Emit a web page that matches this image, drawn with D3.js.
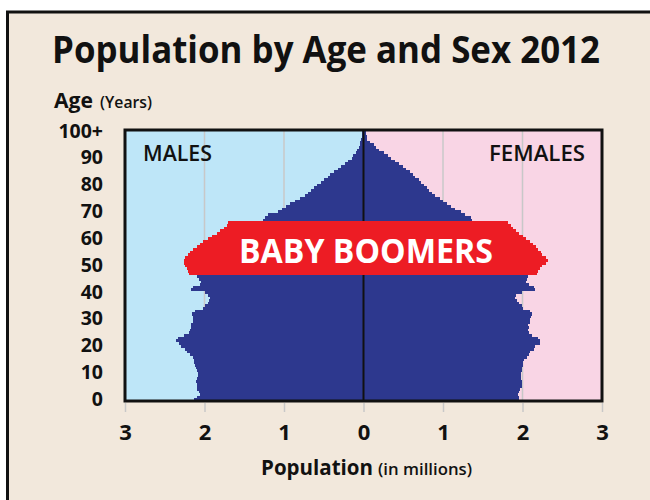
<!DOCTYPE html>
<html>
<head>
<meta charset="utf-8">
<script src="https://cdn.jsdelivr.net/npm/d3@7"></script>
<style>
  body { margin: 0; background: #fff; }
  text { font-family: "Open Sans", sans-serif; fill: #111; }
</style>
</head>
<body>
<script>
// population in millions, single year of age 0..100 (100 = 100+)
const ages = d3.range(0, 101);

const males = [
  2.13, 2.10, 2.06, 2.07, 2.09, 2.10, 2.10, 2.11, 2.10, 2.08,
  2.08, 2.09, 2.11, 2.12, 2.13, 2.13, 2.15, 2.18, 2.22, 2.25,
  2.29, 2.32, 2.36, 2.33, 2.26, 2.20, 2.18, 2.17, 2.17, 2.15,
  2.14, 2.15, 2.16, 2.12, 2.02, 2.00, 1.96, 1.94, 1.93, 1.96,
  2.00, 2.17, 2.15, 2.06, 2.05, 2.07, 2.10, 2.20, 2.21, 2.22,
  2.24, 2.26, 2.26, 2.25, 2.21, 2.18, 2.14, 2.10, 2.06, 2.02,
  1.96, 1.90, 1.84, 1.80, 1.75, 1.72, 1.70, 1.27, 1.24, 1.20,
  1.08, 1.03, 0.98, 0.92, 0.86, 0.80, 0.74, 0.70, 0.66, 0.62,
  0.58, 0.54, 0.50, 0.45, 0.42, 0.37, 0.32, 0.28, 0.23, 0.19,
  0.15, 0.13, 0.10, 0.08, 0.06, 0.05, 0.04, 0.03, 0.02, 0.015,
  0.02
];

const females = [
  1.96, 1.95, 1.94, 1.96, 1.97, 1.99, 1.99, 1.99, 1.98, 1.98,
  1.98, 1.99, 1.99, 2.00, 2.01, 2.02, 2.06, 2.08, 2.10, 2.14,
  2.16, 2.22, 2.22, 2.20, 2.12, 2.08, 2.07, 2.08, 2.07, 2.10,
  2.10, 2.11, 2.12, 2.10, 2.00, 1.99, 1.95, 1.93, 1.90, 1.92,
  1.99, 2.16, 2.15, 2.08, 2.04, 2.06, 2.07, 2.18, 2.20, 2.22,
  2.25, 2.30, 2.32, 2.30, 2.25, 2.23, 2.20, 2.17, 2.13, 2.10,
  2.05, 2.00, 1.95, 1.92, 1.88, 1.85, 1.82, 1.37, 1.35, 1.28,
  1.23, 1.15, 1.10, 1.05, 1.00, 0.96, 0.90, 0.86, 0.83, 0.80,
  0.76, 0.72, 0.70, 0.65, 0.62, 0.58, 0.54, 0.50, 0.45, 0.40,
  0.35, 0.31, 0.26, 0.20, 0.16, 0.13, 0.08, 0.05, 0.04, 0.03,
  0.03
];

const boomerAges = [47, 66];
const ageTicks = [0, 10, 20, 30, 40, 50, 60, 70, 80, 90, 100];
const popTicks = [-3, -2, -1, 0, 1, 2, 3];

const plot = { left: 125, right: 602, top: 130, bottom: 401 };

let svg = d3.select("body")
  .append("svg")
  .attr("width", 650)
  .attr("height", 500);

// outer beige panel
svg.append("rect")
  .attr("x", 7.5)
  .attr("y", 12)
  .attr("width", 700)
  .attr("height", 600)
  .attr("fill", "#f2e8dc")
  .attr("stroke", "#111")
  .attr("stroke-width", 3);

let x = d3.scaleLinear().domain([-3, 3]).range([plot.left, plot.right]);
let y = d3.scaleBand().domain(ages).range([plot.bottom, plot.top]).padding(0);

let data = ages.map(function (a, i) {
  return { age: a, m: males[i], f: females[i] };
});

// backgrounds
svg.append("rect")
  .attr("x", x(-3)).attr("y", plot.top)
  .attr("width", x(0) - x(-3)).attr("height", plot.bottom - plot.top)
  .attr("fill", "#bee6f8");
svg.append("rect")
  .attr("x", x(0)).attr("y", plot.top)
  .attr("width", x(3) - x(0)).attr("height", plot.bottom - plot.top)
  .attr("fill", "#f9d5e5");

// grid lines
svg.selectAll(".grid")
  .data([-2, -1, 1, 2])
  .enter().append("line")
  .attr("x1", function (d) { return x(d); })
  .attr("x2", function (d) { return x(d); })
  .attr("y1", plot.top)
  .attr("y2", plot.bottom)
  .attr("stroke", "#c8c8c8")
  .attr("stroke-width", 1.5);

let isBoomer = function (d) { return d.age >= boomerAges[0] && d.age <= boomerAges[1]; };

let blue = data.filter(function (d) { return !isBoomer(d); });
let red = data.filter(isBoomer);

svg.append("g")
  .attr("shape-rendering", "crispEdges")
  .selectAll("rect")
  .data(blue)
  .enter().append("rect")
  .attr("x", function (d) { return x(-d.m); })
  .attr("y", function (d) { return y(d.age); })
  .attr("width", function (d) { return x(d.f) - x(-d.m); })
  .attr("height", y.bandwidth() + 0.5)
  .attr("fill", "#2d388e");

// centre line
svg.append("line")
  .attr("x1", x(0)).attr("x2", x(0))
  .attr("y1", plot.top).attr("y2", plot.bottom)
  .attr("stroke", "#111")
  .attr("stroke-width", 2);

svg.append("g")
  .attr("shape-rendering", "crispEdges")
  .selectAll("rect")
  .data(red)
  .enter().append("rect")
  .attr("x", function (d) { return x(-d.m); })
  .attr("y", function (d) { return y(d.age); })
  .attr("width", function (d) { return x(d.f) - x(-d.m); })
  .attr("height", y.bandwidth() + 0.5)
  .attr("fill", "#ed1c24");

svg.append("text")
  .attr("x", 366)
  .attr("y", 263)
  .attr("text-anchor", "middle")
  .attr("font-size", 34)
  .attr("font-weight", 700)
  .attr("textLength", 254)
  .attr("lengthAdjust", "spacingAndGlyphs")
  .style("fill", "#fff")
  .text("BABY BOOMERS");

// plot frame
svg.append("rect")
  .attr("x", plot.left).attr("y", plot.top)
  .attr("width", plot.right - plot.left).attr("height", plot.bottom - plot.top)
  .attr("fill", "none")
  .attr("stroke", "#111")
  .attr("stroke-width", 3);

svg.append("text")
  .attr("x", 143).attr("y", 161)
  .attr("font-size", 22).attr("font-weight", 600)
  .attr("textLength", 69).attr("lengthAdjust", "spacingAndGlyphs")
  .text("MALES");
svg.append("text")
  .attr("x", 489).attr("y", 161)
  .attr("font-size", 22).attr("font-weight", 600)
  .attr("textLength", 96).attr("lengthAdjust", "spacingAndGlyphs")
  .text("FEMALES");

// x axis
let xAxis = svg.append("g")
  .attr("transform", "translate(0," + (plot.bottom + 2) + ")")
  .call(d3.axisBottom(x)
    .tickValues(popTicks)
    .tickSize(9)
    .tickPadding(12)
    .tickFormat(function (d) { return Math.abs(d); }));
xAxis.select(".domain").remove();
xAxis.selectAll(".tick line").attr("stroke", "#c8c8c8").attr("stroke-width", 1.5);
xAxis.selectAll(".tick text")
  .attr("font-family", "Open Sans, sans-serif")
  .attr("font-size", 22).attr("font-weight", 700)
  .style("fill", "#111");

// y axis
let yAxis = svg.append("g")
  .attr("transform", "translate(" + 103 + ",0)")
  .call(d3.axisLeft(y)
    .tickValues(ageTicks)
    .tickSize(0)
    .tickPadding(0)
    .tickFormat(function (d) { return d === 100 ? "100+" : d; }));
yAxis.select(".domain").remove();
yAxis.selectAll(".tick text")
  .attr("font-family", "Open Sans, sans-serif")
  .attr("font-size", 19.5).attr("font-weight", 700)
  .style("fill", "#111");

// titles
svg.append("text")
  .attr("x", 52).attr("y", 63)
  .attr("font-size", 37).attr("font-weight", 700)
  .attr("textLength", 548).attr("lengthAdjust", "spacingAndGlyphs")
  .text("Population by Age and Sex 2012");

svg.append("text")
  .attr("x", 54).attr("y", 108)
  .attr("font-size", 22).attr("font-weight", 700)
  .attr("textLength", 39).attr("lengthAdjust", "spacingAndGlyphs")
  .text("Age");
svg.append("text")
  .attr("x", 100).attr("y", 108)
  .attr("font-size", 16).attr("font-weight", 600)
  .attr("textLength", 52).attr("lengthAdjust", "spacingAndGlyphs")
  .text("(Years)");

svg.append("text")
  .attr("x", 261).attr("y", 475)
  .attr("font-size", 22).attr("font-weight", 700)
  .attr("textLength", 112).attr("lengthAdjust", "spacingAndGlyphs")
  .text("Population");
svg.append("text")
  .attr("x", 378).attr("y", 475)
  .attr("font-size", 16).attr("font-weight", 600)
  .attr("textLength", 94).attr("lengthAdjust", "spacingAndGlyphs")
  .text("(in millions)");
</script>
</body>
</html>
